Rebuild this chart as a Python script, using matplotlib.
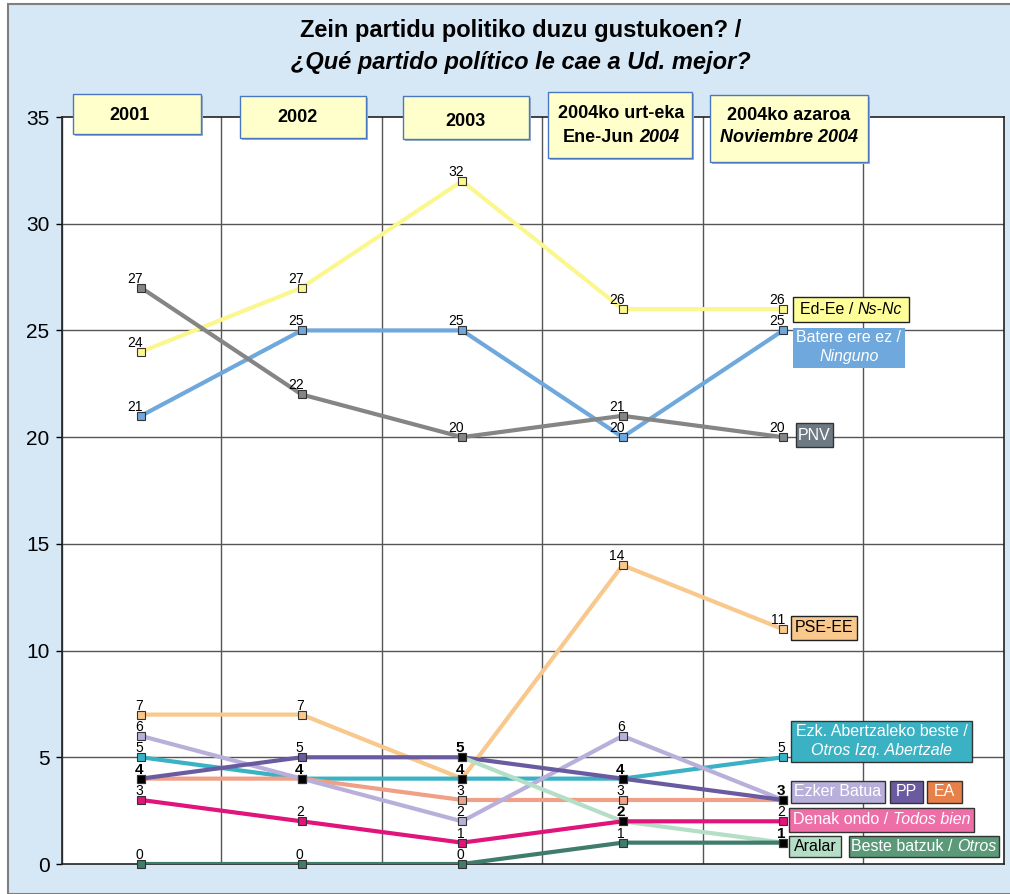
import numpy as np
import matplotlib.pyplot as plt
import matplotlib as mpl
from matplotlib.patches import Rectangle

mpl.rcParams['font.family'] = ['Liberation Sans', 'DejaVu Sans']

#%% data
periods = ['2001', '2002', '2003', '2004a', '2004b']
ed_ee = [24, 27, 32, 26, 26]
batere = [21, 25, 25, 20, 25]
pnv = [27, 22, 20, 21, 20]
pse_ee = [7, 7, 4, 14, 11]
ezk_abertz = [5, 4, 4, 4, 5]
ezker_batua = [6, 4, 2, 6, 3]
pp = [4, 5, 5, 4, 3]
ea = [4, 4, 3, 3, 3]
denak_ondo = [3, 2, 1, 2, 2]
aralar = [np.nan, np.nan, 5, 2, 1]
otros = [0, 0, 0, 1, 1]

yticks = [0, 5, 10, 15, 20, 25, 30, 35]

#%% styles (draw order)
series = [
    (pse_ee, '#F8C88C'),
    (ed_ee, '#FBF78E'),
    (batere, '#6FA8DC'),
    (pnv, '#858585'),
    (ezk_abertz, '#3AB2C4'),
    (ea, '#EFA086'),
    (ezker_batua, '#B8B0DA'),
    (pp, '#6A5AA0'),
    (aralar, '#B4DEC6'),
    (denak_ondo, '#E0147A'),
    (otros, '#3F7C6C'),
]

W, H = 1010, 894
bg = '#D6E8F6'


def fx(x):
    return x / W


def fy(y):
    return 1 - y / H


fig = plt.figure(figsize=(W / 100, H / 100), dpi=100, facecolor='white')
fig.patches.append(Rectangle((fx(8), 0), 1, fy(4), transform=fig.transFigure,
                             facecolor=bg, edgecolor='#7F7F7F', lw=1.5, zorder=-5))

ax = fig.add_axes([fx(62), 1 - 864 / H, (1004 - 62) / W, (864 - 117) / H])
ax.set_zorder(1)
ax.set_facecolor('white')

x = np.arange(1, len(periods) + 1)
ax.set_xlim(0.507, 6.377)
ax.set_ylim(0, 35)
ax.set_yticks(yticks)
ax.set_xticks([])
ax.tick_params(axis='y', labelsize=15, length=4, width=1, pad=5)
for s in ax.spines.values():
    s.set_linewidth(1.2)
    s.set_color('#222222')
for yv in yticks[1:-1]:
    ax.axhline(yv, color='#555555', lw=1.0, zorder=1)
for xv in np.append(x + 0.5, 0.507):
    ax.axvline(xv, color='#555555', lw=1.0, zorder=1)

# overlap count per point -> black marker / bold label
counts = {}
for vals, c in series:
    for i, v in enumerate(vals):
        if not np.isnan(v):
            counts[(i, v)] = counts.get((i, v), 0) + 1

for k, (vals, c) in enumerate(series):
    ax.plot(x, vals, color=c, lw=3.0, zorder=3 + k, solid_capstyle='butt')

done = set()
for k, (vals, c) in enumerate(series):
    for i, v in enumerate(vals):
        if np.isnan(v):
            continue
        multi = counts[(i, v)] > 1
        ax.plot(x[i], v, marker='s', ms=5.8, mfc='black' if multi else c,
                mec='#333333', mew=0.8, zorder=20 + (5 if multi else 0), clip_on=False)
        if (i, v) in done:
            continue
        done.add((i, v))
        ax.annotate(str(int(v)), (x[i], v), xytext=(1.5, 1.5), textcoords='offset points',
                    ha='right', va='bottom', fontsize=11 if multi else 10,
                    fontweight='bold' if multi else 'normal', zorder=30)

renderer = fig.canvas.get_renderer()


def rich_line(parts, cx, cy, size, color, weight='normal'):
    # parts: list of (text, style); a space goes between parts
    objs = [fig.text(0, 0, s, fontsize=size, color=color, style=st, fontweight=weight,
                     va='center', ha='left', zorder=50) for s, st in parts]
    ws = [o.get_window_extent(renderer).width for o in objs]
    a = fig.text(0, 0, 'a a', fontsize=size, fontweight=weight)
    b = fig.text(0, 0, 'aa', fontsize=size, fontweight=weight)
    sp = a.get_window_extent(renderer).width - b.get_window_extent(renderer).width
    a.remove()
    b.remove()
    total = sum(ws) + sp * (len(ws) - 1)
    xx = cx - total / 2
    for o, w in zip(objs, ws):
        o.set_position((fx(xx), fy(cy)))
        xx += w + sp


def box(x0, y0, x1, y1, face, edge, lw=1.0, shadow=False):
    if shadow:
        fig.patches.append(Rectangle((fx(x0 + 2), fy(y1 + 2)), (x1 - x0) / W, (y1 - y0) / H,
                                     transform=fig.transFigure, facecolor='#9DB3C8',
                                     edgecolor='none', zorder=40))
    fig.patches.append(Rectangle((fx(x0), fy(y1)), (x1 - x0) / W, (y1 - y0) / H,
                                 transform=fig.transFigure, facecolor=face,
                                 edgecolor=edge, lw=lw, zorder=41))


#%% title
rich_line([('Zein partidu politiko duzu gustukoen? /', 'normal')], 521, 31, 17, 'black', 'bold')
rich_line([('¿Qué partido político le cae a Ud. mejor?', 'italic')], 521, 63, 17, 'black', 'bold')

#%% header boxes
hy = '#FFFFCC'
he = '#4A78C0'
box(73, 94, 201, 134, hy, he, shadow=True)
rich_line([('2001', 'normal')], 129, 115, 13, 'black', 'bold')
box(240, 96, 366, 138, hy, he, shadow=True)
rich_line([('2002', 'normal')], 298, 117, 13, 'black', 'bold')
box(403, 96, 529, 139, hy, he, shadow=True)
rich_line([('2003', 'normal')], 466, 121, 13, 'black', 'bold')
box(548, 92, 692, 158, hy, he, shadow=True)
rich_line([('2004ko urt-eka', 'normal')], 621, 114, 13, 'black', 'bold')
rich_line([('Ene-Jun', 'normal'), ('2004', 'italic')], 621, 137, 13, 'black', 'bold')
box(710, 95, 868, 162, hy, he, shadow=True)
rich_line([('2004ko azaroa', 'normal')], 789, 115, 13, 'black', 'bold')
rich_line([('Noviembre 2004', 'italic')], 789, 138, 13, 'black', 'bold')

#%% right-hand series labels
fs = 11.5
box(793, 297, 909, 322, '#FFFF99', '#222222')
rich_line([('Ed-Ee /', 'normal'), ('Ns-Nc', 'italic')], 851, 310, fs, 'black')
box(793, 328, 905, 368, '#6FA8DC', 'none')
rich_line([('Batere ere ez /', 'normal')], 849, 338, fs, 'white')
rich_line([('Ninguno', 'italic')], 849, 357, fs, 'white')
box(796, 423, 833, 447, '#6D7A84', '#333333')
rich_line([('PNV', 'normal')], 814.5, 435, fs, 'white')
box(791, 616, 857, 640, '#F8C88C', '#222222')
rich_line([('PSE-EE', 'normal')], 824, 628, fs, 'black')
box(791, 721, 972, 762, '#3AB2C4', '#333333')
rich_line([('Ezk. Abertzaleko beste /', 'normal')], 881.5, 732, fs, 'white')
rich_line([('Otros Izq. Abertzale', 'italic')], 881.5, 751, fs, 'white')
box(791, 781, 885, 803, '#B8B0DA', '#333333')
rich_line([('Ezker Batua', 'normal')], 838, 792, fs, 'white')
box(890, 781, 923, 803, '#6A5AA0', '#333333')
rich_line([('PP', 'normal')], 906.5, 792, fs, 'white')
box(927, 781, 962, 803, '#E8804A', '#333333')
rich_line([('EA', 'normal')], 944.5, 792, fs, 'white')
box(789, 808, 974, 832, '#EE6FA8', '#333333')
rich_line([('Denak ondo /', 'normal'), ('Todos bien', 'italic')], 881.5, 820, fs, 'white')
box(789, 836, 841, 857, '#B4DEC6', '#333333')
rich_line([('Aralar', 'normal')], 815, 846.5, fs, 'black')
box(849, 836, 999, 857, '#5A9A78', '#333333')
rich_line([('Beste batzuk /', 'normal'), ('Otros', 'italic')], 924, 846.5, fs, 'white')

fig.savefig('out.png', dpi=100, facecolor=fig.get_facecolor())
